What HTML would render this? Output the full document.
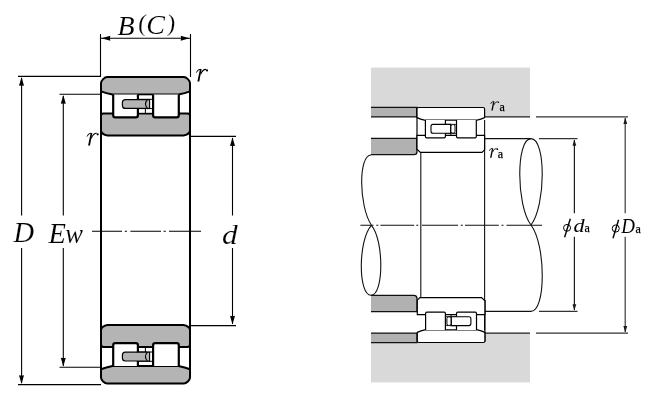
<!DOCTYPE html>
<html><head><meta charset="utf-8">
<style>
html,body{margin:0;padding:0;background:#fff;}
body{width:650px;height:403px;overflow:hidden;position:relative;}
svg{position:absolute;left:0;top:0;will-change:transform;}
.t{font-family:"Liberation Serif",serif;font-style:italic;fill:#000;}
.u{font-family:"Liberation Serif",serif;font-style:normal;fill:#000;}
</style></head><body>
<svg width="650" height="403" viewBox="0 0 650 403">
<defs>
  <g id="sec">
    <!-- outer ring -->
    <path d="M101,91.4 L101,83.2 C101,80.6 104.6,77 107.2,77 L183.8,77 C186.4,77 190,80.6 190,83.2 L190,91.4 Q185,93.2 178.5,94.6 L112.5,94.6 Q106,93.2 101,91.4 Z" fill="#b4b4b4" stroke="#000" stroke-width="2"/>
    <!-- inner ring -->
    <path d="M101,116 Q101,113.6 103.4,113.6 L187.6,113.6 Q190,113.6 190,116 L190,130.8 Q189.2,134.6 183.4,135.6 L107.6,135.6 Q101.8,134.6 101,130.8 Z" fill="#b4b4b4" stroke="#000" stroke-width="2"/>
    <rect x="138" y="95.6" width="15" height="17" fill="#fff"/>
    <!-- rollers -->
    <path d="M113.2,94.6 L113.2,115.3 Q113.2,117.4 115.3,117.4 L135.8,117.4 Q137.9,117.4 137.9,115.3 L137.9,94.6" fill="#fff" stroke="#000" stroke-width="2.2"/>
    <path d="M153.1,94.6 L153.1,115.3 Q153.1,117.4 155.2,117.4 L176.7,117.4 Q178.8,117.4 178.8,115.3 L178.8,94.6" fill="#fff" stroke="#000" stroke-width="2.2"/>
    <!-- cage slot lines -->
    <g stroke="#000" stroke-width="1" fill="none">
      <line x1="138" y1="99.3" x2="153" y2="99.3"/>
      <line x1="138" y1="108.6" x2="153" y2="108.6"/>
      <line x1="145.4" y1="108.6" x2="145.4" y2="113.3"/>
    </g>
    <!-- cage -->
    <path d="M147,99.6 L125.4,99.6 Q122.4,99.6 122.4,102.6 L122.4,105.4 Q122.4,108.4 125.4,108.4 L147,108.4" fill="#b4b4b4" stroke="#000" stroke-width="1.2"/>
    <path d="M149.6,99.6 L147.4,99.6 Q143.6,104 147.4,108.4 L149.6,108.4 Z" fill="#b4b4b4" stroke="#000" stroke-width="1.1"/>
  </g>
  <g id="rsec">
    <!-- side lines -->
    <line x1="417" y1="108" x2="417" y2="150" stroke="#000" stroke-width="1.2"/>
    <!-- outer ring -->
    <path d="M417,117.6 L417,109 Q417,107.5 418.5,107.5 L483.1,107.5 Q484.6,107.5 484.6,109 L484.6,117.6 Q481,119.5 477,120.1 L424.5,120.1 Q420.5,119.5 417,117.6 Z" fill="#fff" stroke="#000" stroke-width="1.2"/>
    <!-- inner ring -->
    <path d="M417,135.4 L484.6,135.4 L484.6,149.8 L482,152.4 L420.4,152.4 L417,149.2 Z" fill="#fff" stroke="#000" stroke-width="1.2"/>
    <!-- rollers -->
    <path d="M425.4,120.1 L425.4,136.6 Q425.4,137.9 426.7,137.9 L444.1,137.9 Q445.4,137.9 445.4,136.6 L445.4,120.1" fill="#fff" stroke="#000" stroke-width="1.2"/>
    <path d="M456.5,120.1 L456.5,136.6 Q456.5,137.9 457.8,137.9 L475,137.9 Q476.3,137.9 476.3,136.6 L476.3,120.1" fill="#fff" stroke="#000" stroke-width="1.2"/>
    <g stroke="#000" stroke-width="0.9" fill="none">
      <line x1="445.4" y1="124.4" x2="456.5" y2="124.4"/>
      <line x1="445.4" y1="133.3" x2="456.5" y2="133.3"/>
      <line x1="450.8" y1="133.3" x2="450.8" y2="135.4"/>
    </g>
    <path d="M450.6,124.4 L433,124.4 Q431,124.4 431,126.4 L431,131.3 Q431,133.3 433,133.3 L450.6,133.3 Z" fill="#fff" stroke="#000" stroke-width="1.1"/>
    <rect x="450.9" y="124.6" width="4.1" height="8.5" rx="1.6" fill="#fff" stroke="#000" stroke-width="1"/>
  </g>
  <g id="rg" fill="#000">
  <path d="M0,-8.9 Q1.2,-12.3 3.8,-12.2" fill="none" stroke="#000" stroke-width="1"/>
  <path d="M3.6,-12.4 L5.2,-12.4 L2.9,0 L1.0,0 Z"/>
  <path d="M4.2,-7.2 Q6.2,-12 9.6,-12.1" fill="none" stroke="#000" stroke-width="1.1"/>
  <circle cx="10.6" cy="-11.1" r="1.1"/>
</g>
  <path id="arr" d="M0,0 L-2.5,8.8 Q0,8 2.5,8.8 Z" fill="#000"/>
  <path id="sarr" d="M0,0 L-1.9,6.3 L1.9,6.3 Z" fill="#1a1a1a"/>
</defs>

<!-- ============ LEFT DRAWING ============ -->
<!-- side lines of inner ring between sections -->
<g stroke="#000" stroke-width="2">
  <line x1="101" y1="83" x2="101" y2="378"/>
  <line x1="190" y1="83" x2="190" y2="378"/>
</g>
<use href="#sec"/>
<use href="#sec" transform="translate(0,460.6) scale(1,-1)"/>

<!-- dimension lines -->
<g stroke="#000" stroke-width="1.1" fill="none">
  <!-- B -->
  <line x1="100.5" y1="34" x2="100.5" y2="77"/>
  <line x1="190.5" y1="34" x2="190.5" y2="77"/>
  <line x1="101" y1="38.2" x2="190" y2="38.2"/>
  <!-- D -->
  <line x1="18" y1="76.4" x2="101" y2="76.4"/>
  <line x1="18" y1="384.6" x2="101" y2="384.6"/>
  <line x1="21.6" y1="78" x2="21.6" y2="215.5"/>
  <line x1="21.6" y1="248" x2="21.6" y2="383"/>
  <!-- Ew -->
  <line x1="59.5" y1="94.2" x2="101" y2="94.2"/>
  <line x1="59.5" y1="367.3" x2="101" y2="367.3"/>
  <line x1="63.3" y1="96" x2="63.3" y2="215.5"/>
  <line x1="63.3" y1="248" x2="63.3" y2="366"/>
  <!-- d -->
  <line x1="190" y1="136.4" x2="236" y2="136.4"/>
  <line x1="190" y1="325.6" x2="236" y2="325.6"/>
  <line x1="232.5" y1="138" x2="232.5" y2="215.5"/>
  <line x1="232.5" y1="248" x2="232.5" y2="324"/>
  <!-- centre line -->
  <path d="M92,231.3 H122 M124.8,231.3 H127 M130.4,231.3 H161 M163.6,231.3 H165.8 M169,231.3 H201"/>
</g>
<!-- arrows -->
<use href="#arr" transform="translate(101.5,38.2) rotate(-90)"/>
<use href="#arr" transform="translate(189.5,38.2) rotate(90)"/>
<use href="#arr" transform="translate(21.5,77)"/>
<use href="#arr" transform="translate(21.5,384) rotate(180)"/>
<use href="#arr" transform="translate(63.3,95)"/>
<use href="#arr" transform="translate(63.3,366.5) rotate(180)"/>
<use href="#arr" transform="translate(232.5,137.3)"/>
<use href="#arr" transform="translate(232.5,324.6) rotate(180)"/>

<!-- labels -->
<g class="t" stroke="#fff" stroke-width="0.12">
<text x="117.4" y="34.5" font-size="28">B</text>
<text class="u" x="137.7" y="30.8" font-size="24" transform="translate(137.7,30.8) skewX(-5) translate(-137.7,-30.8)">(</text>
<text x="146.2" y="34" font-size="28">C</text>
<text class="u" x="166.7" y="30.8" font-size="24" transform="translate(166.7,30.8) skewX(-5) translate(-166.7,-30.8)">)</text>
<text x="13.5" y="241.6" font-size="28.5">D</text>
<text x="48.5" y="243.2" font-size="28.5">E<tspan dx="-0.6" font-size="26.5">w</tspan></text>
<text x="222" y="243.7" font-size="28" transform="translate(222,243.7) scale(1.12,1) translate(-222,-243.7)">d</text>
</g>
<use href="#rg" transform="translate(196.4,81.5)"/>
<use href="#rg" transform="translate(87.1,145.4)"/>
<!-- ============ RIGHT DRAWING ============ -->
<!-- housing -->
<rect x="371" y="67.6" width="159" height="49.3" fill="#d9d9d9"/>
<rect x="371" y="333.1" width="159" height="49.3" fill="#d9d9d9"/>
<!-- medium grey bands -->
<g fill="#b1b1b1" stroke="#111" stroke-width="1.3">
  <path d="M371,107.4 H417 V116.9 H371"/>
  <path d="M371,333.1 H417 V342.6 H371"/>
  <path d="M371,138.4 H417 V151.5 Q417,154.7 414,154.7 H371"/>
  <path d="M371,295.3 H414 Q417,295.3 417,298.5 V311.6 H371"/>
</g>
<g stroke="#1e1e1e" stroke-width="1.2" fill="none">
  <line x1="484.6" y1="116.9" x2="530" y2="116.9"/>
  <line x1="484.6" y1="333.1" x2="530" y2="333.1"/>
  <line x1="536" y1="116.9" x2="628" y2="116.9" stroke="#333"/>
  <line x1="536" y1="333.1" x2="628" y2="333.1" stroke="#333"/>
  <line x1="539" y1="138.7" x2="577.5" y2="138.7" stroke="#333"/>
  <line x1="539" y1="311.3" x2="577.5" y2="311.3" stroke="#333"/>
  <line x1="574.4" y1="140" x2="574.4" y2="213.3"/>
  <line x1="574.4" y1="236.8" x2="574.4" y2="310"/>
  <line x1="625.2" y1="118" x2="625.2" y2="213.3" stroke="#3a3a3a"/>
  <line x1="625.2" y1="236.8" x2="625.2" y2="332" stroke="#3a3a3a"/>
</g>
<use href="#sarr" transform="translate(574.4,139.4)"/>
<use href="#sarr" transform="translate(574.4,310.6) rotate(180)"/>
<use href="#sarr" transform="translate(625.3,117.6)"/>
<use href="#sarr" transform="translate(625.3,332.4) rotate(180)"/>

<!-- shaft -->
<g stroke="#111" stroke-width="1.1" fill="none">
  <line x1="420.8" y1="152.4" x2="420.8" y2="297.6"/>
  <line x1="484.6" y1="120" x2="484.6" y2="330"/>
  <line x1="484.6" y1="138.6" x2="531" y2="138.6"/>
  <line x1="484.6" y1="311.4" x2="531" y2="311.4"/>
  <!-- left break -->
  <path d="M371,155 C358.5,155 358.5,205 371.4,225.3"/>
  <path d="M371.4,225.3 C358,240 358,295.3 371,295.3"/>
  <path d="M371.4,225.3 C384,240 384,295.3 371,295.3"/>
  <!-- right break -->
  <path d="M531,138.6 C516,138.6 516,205 531,225 M531,138.6 C546,138.6 546,205 531,225"/>
  <path d="M531,225 C546,245 546,311.4 531,311.4"/>
  <!-- centre line -->
  <path d="M360.4,225.2 H373.5 M376.3,225.2 H378.3 M380.4,225.2 H414.2 M416.3,225.2 H418.3 M422,225.2 H458 M460.8,225.2 H462.8 M465,225.2 H498.8 M501.5,225.2 H503.5 M506.5,225.2 H542"/>
</g>
<use href="#rsec"/>
<use href="#rsec" transform="rotate(180,450.95,225)"/>

<!-- right labels -->
<use href="#rg" transform="translate(490.6,110.4) scale(0.74,0.73)"/>
<use href="#rg" transform="translate(489.3,157.7) scale(0.76,0.77)"/>
<g font-family="Liberation Serif, serif" font-size="12" fill="#000" stroke="#000" stroke-width="0.25">
<text x="499.5" y="110.5">a</text>
<text x="497.7" y="157.6">a</text>
<text x="584.5" y="231.6">a</text>
<text x="635.6" y="232.7">a</text>
</g>
<g fill="none" stroke="#000">
  <ellipse cx="567.05" cy="227.85" rx="3.5" ry="3.4" stroke-width="1"/>
  <line x1="570.3" y1="218.7" x2="564.6" y2="237.3" stroke-width="1.4"/>
  <ellipse cx="615.75" cy="228.5" rx="3.5" ry="3.6" stroke-width="1"/>
  <line x1="618.6" y1="219.7" x2="613" y2="238.3" stroke-width="1.4"/>
</g>
<text class="t" x="573.6" y="231.6" font-size="18.5" transform="translate(573.6,231.6) scale(1.2,1) translate(-573.6,-231.6)">d</text>
<text class="t" x="621.2" y="232.8" font-size="20" transform="translate(621.2,232.8) scale(0.95,1) translate(-621.2,-232.8)">D</text>
</svg>
</body></html>
